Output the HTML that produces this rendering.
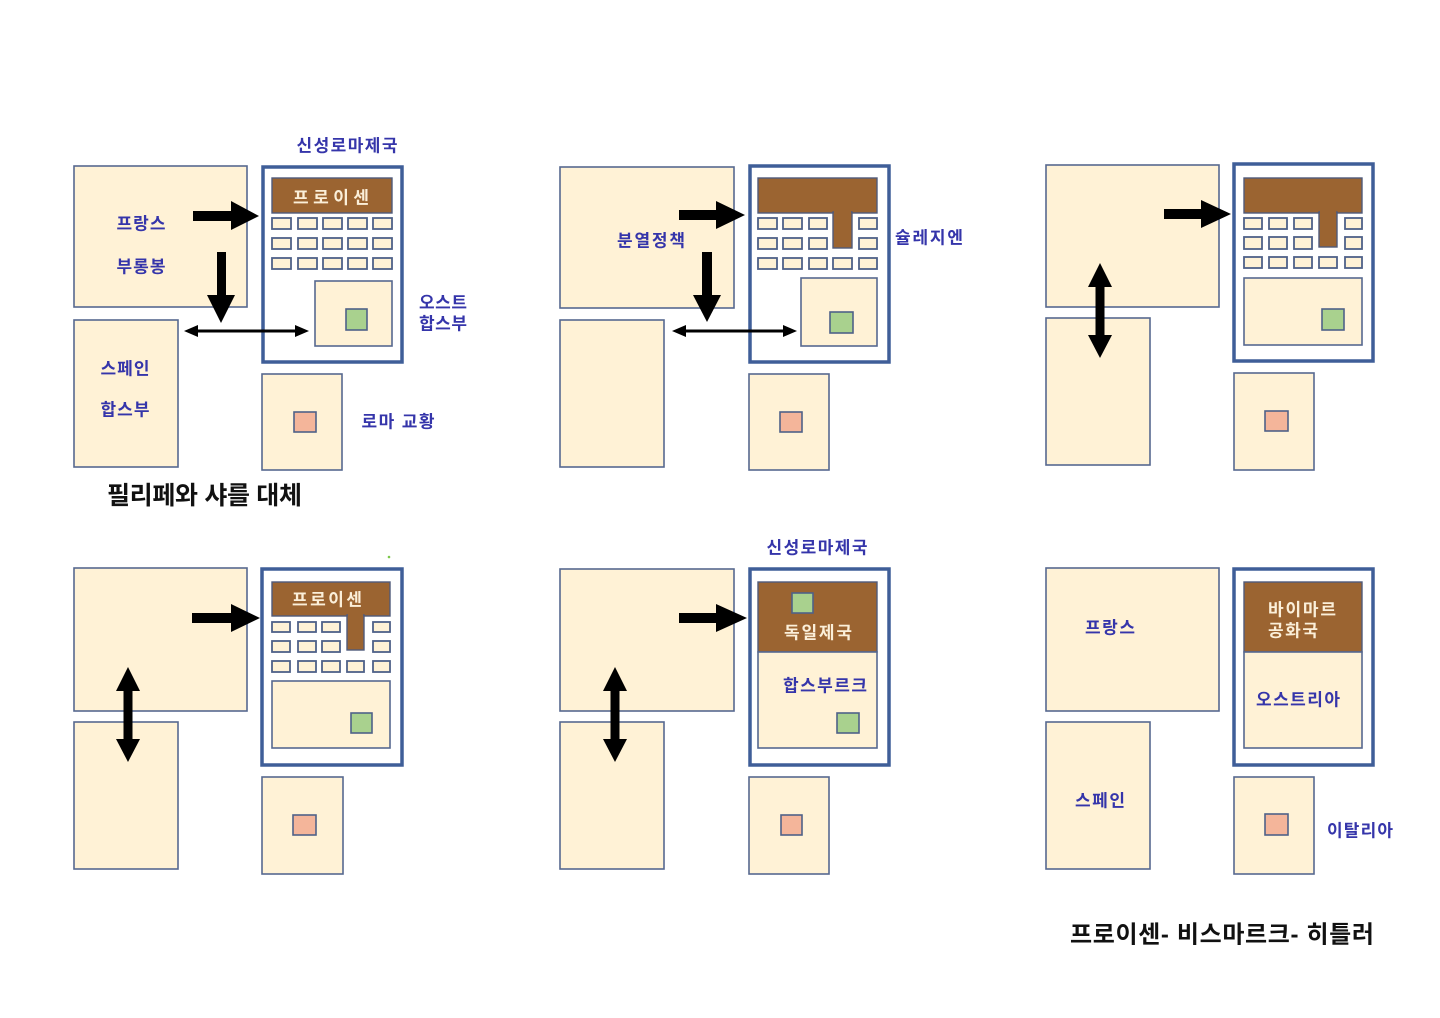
<!DOCTYPE html>
<html>
<head>
<meta charset="utf-8">
<style>
  html,body{margin:0;padding:0;background:#ffffff;}
  svg{display:block;}
  .lbl{font-family:"Liberation Sans","Noto Sans CJK KR",sans-serif;font-weight:bold;font-size:17px;fill:#3535aa;}
  .wl{font-family:"Liberation Sans","Noto Sans CJK KR",sans-serif;font-weight:bold;font-size:17px;fill:#fbefd9;}
  .blk{font-family:"Liberation Sans","Noto Sans CJK KR",sans-serif;font-weight:bold;fill:#111;}
  .bx{fill:#fff2d6;stroke:#56688f;stroke-width:1.6;}
  .hre{fill:#ffffff;stroke:#3f5e98;stroke-width:3.5;}
  .br{fill:#9b6431;stroke:#4f5a7a;stroke-width:1.4;}
  .sm{fill:#fff2d6;stroke:#4f6188;stroke-width:1.8;}
  .gr{fill:#a9d18e;stroke:#4f6188;stroke-width:1.6;}
  .pk{fill:#f4b59a;stroke:#4f6188;stroke-width:1.6;}
</style>
</head>
<body>
<svg width="1440" height="1018" viewBox="0 0 1440 1018" xmlns="http://www.w3.org/2000/svg">

<!-- ================= PANEL 1 ================= -->
<rect class="bx" x="74" y="166" width="173" height="141"/>
<rect class="bx" x="74" y="320" width="104" height="147"/>
<rect class="hre" x="263" y="167" width="139" height="195"/>
<rect class="br" x="272" y="178" width="120" height="35"/>
<g>
  <rect class="sm" x="272" y="218" width="19" height="11"/><rect class="sm" x="298" y="218" width="19" height="11"/><rect class="sm" x="323" y="218" width="19" height="11"/><rect class="sm" x="348" y="218" width="19" height="11"/><rect class="sm" x="373" y="218" width="19" height="11"/>
  <rect class="sm" x="272" y="238" width="19" height="11"/><rect class="sm" x="298" y="238" width="19" height="11"/><rect class="sm" x="323" y="238" width="19" height="11"/><rect class="sm" x="348" y="238" width="19" height="11"/><rect class="sm" x="373" y="238" width="19" height="11"/>
  <rect class="sm" x="272" y="258" width="19" height="11"/><rect class="sm" x="298" y="258" width="19" height="11"/><rect class="sm" x="323" y="258" width="19" height="11"/><rect class="sm" x="348" y="258" width="19" height="11"/><rect class="sm" x="373" y="258" width="19" height="11"/>
</g>
<rect class="bx" x="315" y="281" width="77" height="65"/>
<rect class="gr" x="346" y="309" width="21" height="21"/>
<rect class="bx" x="262" y="374" width="80" height="96"/>
<rect class="pk" x="294" y="412" width="22" height="20"/>
<!-- arrows -->
<rect x="193" y="211" width="40" height="10" fill="#000"/>
<polygon points="231,201 259,216 231,230" fill="#000"/>
<rect x="217" y="252" width="9" height="44" fill="#000"/>
<polygon points="207,295 235,295 221,323" fill="#000"/>
<rect x="196" y="329.5" width="101" height="3" fill="#000"/>
<polygon points="184,331 198,325 198,337" fill="#000"/>
<polygon points="309,331 295,325 295,337" fill="#000"/>
<!-- labels -->
<text class="lbl" x="347" y="146" text-anchor="middle" dominant-baseline="central" textLength="101">신성로마제국</text>
<text class="wl" x="331" y="198" text-anchor="middle" dominant-baseline="central" textLength="76">프로이센</text>
<text class="lbl" x="141" y="224" text-anchor="middle" dominant-baseline="central" textLength="49">프랑스</text>
<text class="lbl" x="141" y="267" text-anchor="middle" dominant-baseline="central" textLength="49">부롱봉</text>
<text class="lbl" x="125" y="369" text-anchor="middle" dominant-baseline="central" textLength="49">스페인</text>
<text class="lbl" x="125" y="410" text-anchor="middle" dominant-baseline="central" textLength="49">합스부</text>
<text class="lbl" x="443" y="303" text-anchor="middle" dominant-baseline="central" textLength="48">오스트</text>
<text class="lbl" x="443" y="324" text-anchor="middle" dominant-baseline="central" textLength="48">합스부</text>
<text class="lbl" x="398" y="422" text-anchor="middle" dominant-baseline="central" textLength="73">로마 교황</text>
<text class="blk" x="107" y="496" dominant-baseline="central" font-size="25" textLength="195">필리페와 샤를 대체</text>

<!-- ================= PANEL 2 ================= -->
<rect class="bx" x="560" y="167" width="174" height="141"/>
<rect class="bx" x="560" y="320" width="104" height="147"/>
<rect class="hre" x="750" y="166" width="139" height="196"/>
<rect class="br" x="758" y="178" width="119" height="35"/>
<g>
  <rect class="sm" x="758" y="218" width="19" height="11"/><rect class="sm" x="783" y="218" width="19" height="11"/><rect class="sm" x="809" y="218" width="18" height="11"/><rect class="sm" x="859" y="218" width="18" height="11"/>
  <rect class="sm" x="758" y="238" width="19" height="11"/><rect class="sm" x="783" y="238" width="19" height="11"/><rect class="sm" x="809" y="238" width="18" height="11"/><rect class="sm" x="859" y="238" width="18" height="11"/>
  <rect class="sm" x="758" y="258" width="19" height="11"/><rect class="sm" x="783" y="258" width="19" height="11"/><rect class="sm" x="809" y="258" width="18" height="11"/><rect class="sm" x="833" y="258" width="19" height="11"/><rect class="sm" x="859" y="258" width="18" height="11"/>
</g>
<rect class="br" x="833" y="212" width="19" height="36"/>
<rect x="834" y="211" width="17" height="4" fill="#9b6431"/>
<rect class="bx" x="801" y="278" width="76" height="68"/>
<rect class="gr" x="830" y="312" width="23" height="21"/>
<rect class="bx" x="749" y="374" width="80" height="96"/>
<rect class="pk" x="780" y="412" width="22" height="20"/>
<!-- arrows -->
<rect x="679" y="210" width="39" height="10" fill="#000"/>
<polygon points="716,201 745,215 716,229" fill="#000"/>
<rect x="702" y="252" width="10" height="44" fill="#000"/>
<polygon points="693,295 721,295 707,322" fill="#000"/>
<rect x="684" y="329.5" width="101" height="3" fill="#000"/>
<polygon points="672,331 686,325 686,337" fill="#000"/>
<polygon points="797,331 783,325 783,337" fill="#000"/>
<!-- labels -->
<text class="lbl" x="651" y="241" text-anchor="middle" dominant-baseline="central" textLength="68">분열정책</text>
<text class="lbl" x="929" y="238" text-anchor="middle" dominant-baseline="central" textLength="68">슐레지엔</text>

<!-- ================= PANEL 3 ================= -->
<rect class="bx" x="1046" y="165" width="173" height="142"/>
<rect class="bx" x="1046" y="318" width="104" height="147"/>
<rect class="hre" x="1234" y="164" width="139" height="197"/>
<rect class="br" x="1244" y="178" width="118" height="35"/>
<g>
  <rect class="sm" x="1244" y="218" width="18" height="11"/><rect class="sm" x="1269" y="218" width="18" height="11"/><rect class="sm" x="1294" y="218" width="18" height="11"/><rect class="sm" x="1345" y="218" width="17" height="11"/>
  <rect class="sm" x="1244" y="237" width="18" height="12"/><rect class="sm" x="1269" y="237" width="18" height="12"/><rect class="sm" x="1294" y="237" width="18" height="12"/><rect class="sm" x="1345" y="237" width="17" height="12"/>
  <rect class="sm" x="1244" y="257" width="18" height="11"/><rect class="sm" x="1269" y="257" width="18" height="11"/><rect class="sm" x="1294" y="257" width="18" height="11"/><rect class="sm" x="1319" y="257" width="18" height="11"/><rect class="sm" x="1345" y="257" width="17" height="11"/>
</g>
<rect class="br" x="1319" y="212" width="18" height="35"/>
<rect x="1320" y="211" width="16" height="4" fill="#9b6431"/>
<rect class="bx" x="1244" y="278" width="118" height="67"/>
<rect class="gr" x="1322" y="309" width="22" height="21"/>
<rect class="bx" x="1234" y="373" width="80" height="97"/>
<rect class="pk" x="1265" y="411" width="23" height="20"/>
<!-- arrows -->
<rect x="1164" y="209" width="39" height="10" fill="#000"/>
<polygon points="1201,200 1231,214 1201,228" fill="#000"/>
<rect x="1095.5" y="285" width="9" height="52" fill="#000"/>
<polygon points="1100,263 1112,287 1088,287" fill="#000"/>
<polygon points="1100,358 1112,335 1088,335" fill="#000"/>

<!-- ================= PANEL 4 ================= -->
<rect class="bx" x="74" y="568" width="173" height="143"/>
<rect class="bx" x="74" y="722" width="104" height="147"/>
<rect class="hre" x="262" y="569" width="140" height="196"/>
<rect class="br" x="272" y="582" width="118" height="34"/>
<g>
  <rect class="sm" x="272" y="622" width="18" height="10"/><rect class="sm" x="298" y="622" width="18" height="10"/><rect class="sm" x="322" y="622" width="18" height="10"/><rect class="sm" x="373" y="622" width="17" height="10"/>
  <rect class="sm" x="272" y="641" width="18" height="11"/><rect class="sm" x="298" y="641" width="18" height="11"/><rect class="sm" x="322" y="641" width="18" height="11"/><rect class="sm" x="373" y="641" width="17" height="11"/>
  <rect class="sm" x="272" y="661" width="18" height="11"/><rect class="sm" x="298" y="661" width="18" height="11"/><rect class="sm" x="322" y="661" width="18" height="11"/><rect class="sm" x="347" y="661" width="17" height="11"/><rect class="sm" x="373" y="661" width="17" height="11"/>
</g>
<rect class="br" x="347" y="615" width="17" height="35"/>
<rect x="348" y="614" width="15" height="4" fill="#9b6431"/>
<rect class="bx" x="272" y="681" width="118" height="67"/>
<rect class="gr" x="351" y="713" width="21" height="20"/>
<rect class="bx" x="262" y="777" width="81" height="97"/>
<rect class="pk" x="293" y="815" width="23" height="20"/>
<circle cx="389" cy="557" r="1.3" fill="#7cc84a"/>
<!-- arrows -->
<rect x="192" y="613" width="41" height="10" fill="#000"/>
<polygon points="231,604 260,618 231,632" fill="#000"/>
<rect x="123.5" y="689" width="9" height="52" fill="#000"/>
<polygon points="128,667 140,691 116,691" fill="#000"/>
<polygon points="128,762 140,739 116,739" fill="#000"/>
<text class="wl" x="327" y="600" text-anchor="middle" dominant-baseline="central" textLength="70">프로이센</text>

<!-- ================= PANEL 5 ================= -->
<rect class="bx" x="560" y="569" width="174" height="142"/>
<rect class="bx" x="560" y="722" width="104" height="147"/>
<rect class="hre" x="750" y="569" width="139" height="196"/>
<rect class="br" x="758" y="582" width="119" height="70"/>
<rect class="bx" x="758" y="652" width="119" height="96"/>
<rect class="gr" x="792" y="593" width="21" height="20"/>
<rect class="gr" x="837" y="713" width="22" height="20"/>
<rect class="bx" x="749" y="777" width="80" height="97"/>
<rect class="pk" x="781" y="815" width="21" height="20"/>
<!-- arrows -->
<rect x="679" y="613" width="39" height="10" fill="#000"/>
<polygon points="716,604 747,618 716,632" fill="#000"/>
<rect x="610.5" y="689" width="9" height="52" fill="#000"/>
<polygon points="615,667 627,691 603,691" fill="#000"/>
<polygon points="615,762 627,739 603,739" fill="#000"/>
<!-- labels -->
<text class="lbl" x="817" y="548" text-anchor="middle" dominant-baseline="central" textLength="101">신성로마제국</text>
<text class="wl" x="818" y="633" text-anchor="middle" dominant-baseline="central" textLength="68">독일제국</text>
<text class="lbl" x="825" y="686" text-anchor="middle" dominant-baseline="central" textLength="84">합스부르크</text>

<!-- ================= PANEL 6 ================= -->
<rect class="bx" x="1046" y="568" width="173" height="143"/>
<rect class="bx" x="1046" y="722" width="104" height="147"/>
<rect class="hre" x="1234" y="569" width="139" height="196"/>
<rect class="br" x="1244" y="582" width="118" height="70"/>
<rect class="bx" x="1244" y="652" width="118" height="96"/>
<rect class="bx" x="1234" y="777" width="80" height="97"/>
<rect class="pk" x="1265" y="814" width="23" height="21"/>
<!-- labels -->
<text class="lbl" x="1110" y="628" text-anchor="middle" dominant-baseline="central" textLength="50">프랑스</text>
<text class="lbl" x="1100" y="801" text-anchor="middle" dominant-baseline="central" textLength="50">스페인</text>
<text class="wl" x="1268" y="610" dominant-baseline="central" font-weight="normal" textLength="68">바이마르</text>
<text class="wl" x="1268" y="631" dominant-baseline="central" font-weight="normal" textLength="50">공화국</text>
<text class="lbl" x="1298" y="700" text-anchor="middle" dominant-baseline="central" textLength="84">오스트리아</text>
<text class="lbl" x="1360" y="831" text-anchor="middle" dominant-baseline="central" textLength="66">이탈리아</text>

<text class="blk" x="1070" y="935" dominant-baseline="central" font-size="24" textLength="304">프로이센- 비스마르크- 히틀러</text>

</svg>
</body>
</html>
